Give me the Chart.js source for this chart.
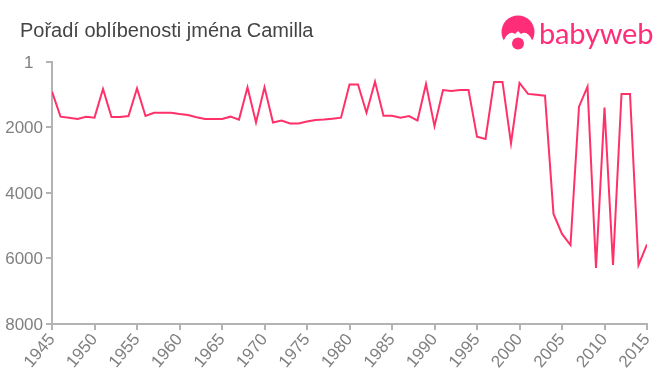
<!DOCTYPE html>
<html lang="en">
<head>
  <meta charset="UTF-8">
  <title>Pořadí oblíbenosti jména Camilla</title>
  <script src="https://cdn.jsdelivr.net/npm/chart.js"></script>
  <style>
    body { margin: 0; background: #fff; }
    .wrap { position: relative; width: 660px; height: 375px; overflow: hidden; }
    .title {
      position: absolute; left: 20px; top: 19px;
      font: 20px "Liberation Sans", Arial, sans-serif; color: #444;
    }
    .logo-text {
      position: absolute; left: 539px; top: 15px;
      font: 29px Lato, sans-serif; letter-spacing: -0.2px; color: #ff2d78;
    }
    .logo-icon { position: absolute; left: 500px; top: 15px; }
  </style>
</head>
<body>
  <div class="wrap">
    <canvas id="rankChart" width="660" height="375"></canvas>
    <div class="title">Pořadí oblíbenosti jména Camilla</div>
    <svg class="logo-icon" width="38" height="38" viewBox="0 0 38 38">
      <circle cx="18" cy="17" r="16.5" fill="#ff2d78"/>
      <path d="M4 33 L4 25 Q9 15 15 19 L18 16 L21 19 Q27 15 32 25 L32 33 Z" fill="#fff"/>
      <circle cx="18" cy="28.5" r="6" fill="#ff2d78"/>
    </svg>
    <div class="logo-text">babyweb</div>
  </div>

  <script>
    // Rank per year
    const years = [1945, 1946, 1947, 1948, 1949, 1950, 1951, 1952, 1953, 1954,
      1955, 1956, 1957, 1958, 1959, 1960, 1961, 1962, 1963, 1964,
      1965, 1966, 1967, 1968, 1969, 1970, 1971, 1972, 1973, 1974,
      1975, 1976, 1977, 1978, 1979, 1980, 1981, 1982, 1983, 1984,
      1985, 1986, 1987, 1988, 1989, 1990, 1991, 1992, 1993, 1994,
      1995, 1996, 1997, 1998, 1999, 2000, 2001, 2002, 2003, 2004,
      2005, 2006, 2007, 2008, 2009, 2010, 2011, 2012, 2013, 2014, 2015];
    const ranks = [907, 1670, 1700, 1740, 1670, 1700, 825, 1680, 1680, 1650,
      805, 1650, 1550, 1550, 1550, 1590, 1620, 1690, 1740, 1740,
      1740, 1670, 1760, 775, 1850, 775, 1850, 1790, 1880, 1880,
      1820, 1770, 1760, 1730, 1700, 690, 690, 1550, 600, 1640,
      1640, 1700, 1650, 1790, 670, 1960, 855, 885, 855, 855,
      2280, 2350, 610, 610, 2480, 640, 975, 1000, 1030, 4640,
      5250, 5590, 1365, 755, 6290, 1395, 6200, 975, 975, 6200, 5570];
    const yTicks = [1, 2000, 4000, 6000, 8000];

    const axisColor = "#b3b3b3";
    const labelColor = "#808080";
    const labelFont = { family: "'Liberation Sans', Arial, sans-serif", size: 17 };

    new Chart(document.getElementById("rankChart").getContext("2d"), {
      type: "line",
      data: {
        datasets: [{
          data: years.map((y, i) => ({ x: y, y: ranks[i] })),
          borderColor: "#ff3168",
          borderWidth: 2,
          pointRadius: 0,
          tension: 0,
          fill: false
        }]
      },
      options: {
        responsive: false,
        animation: false,
        layout: { padding: { top: 62, right: 13, left: 0, bottom: 0 } },
        plugins: { legend: { display: false }, tooltip: { enabled: false } },
        scales: {
          x: {
            type: "linear",
            min: 1945,
            max: 2015,
            afterFit: (axis) => {
              axis.height = 51;
              axis.paddingLeft = 0;
              axis.paddingRight = 0;
            },
            border: { color: axisColor, width: 2 },
            grid: { drawOnChartArea: false, color: axisColor, lineWidth: 2, tickLength: 6 },
            ticks: {
              stepSize: 5,
              maxRotation: 50,
              minRotation: 50,
              padding: 0,
              color: labelColor,
              font: labelFont,
              callback: (v) => String(v)
            }
          },
          y: {
            reverse: true,
            min: 1,
            max: 8000,
            afterFit: (axis) => {
              axis.width = 52;
              axis.paddingTop = 0;
              axis.paddingBottom = 0;
            },
            afterBuildTicks: (axis) => { axis.ticks = yTicks.map((v) => ({ value: v })); },
            border: { color: axisColor, width: 2 },
            grid: { drawOnChartArea: false, color: axisColor, lineWidth: 2, tickLength: 6 },
            ticks: {
              padding: 3,
              labelOffset: 1,
              color: labelColor,
              font: labelFont,
              // the "1" sits further left than the other labels in the reference
              callback: (v) => (v === 1 ? "1  " : String(v))
            }
          }
        }
      }
    });
  </script>
</body>
</html>
